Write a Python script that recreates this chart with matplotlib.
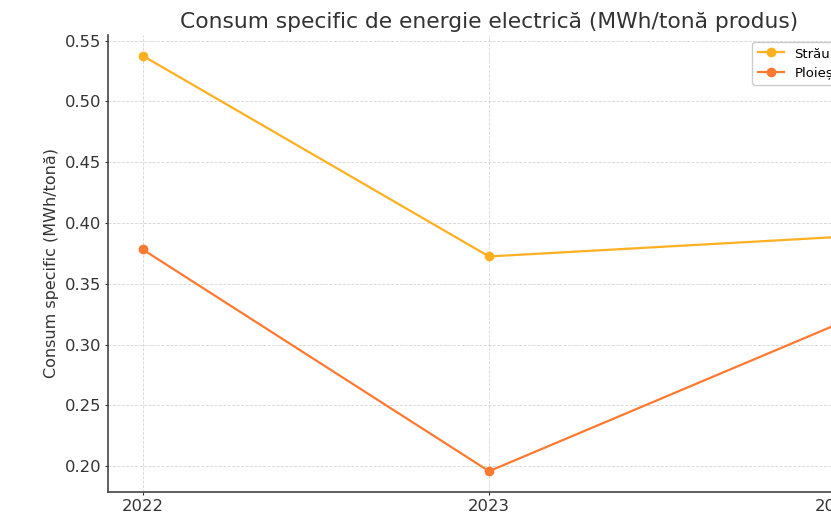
import matplotlib
matplotlib.use("Agg")
import matplotlib.pyplot as plt

plt.rcParams["font.family"] = ["DejaVu Sans"]

years = [2022, 2023, 2024]
straulesti = [0.5376, 0.3725, 0.3884]
ploiesti = [0.3783, 0.1959, 0.3161]
series_labels = ["Străulești", "Ploiești"]
title = "Consum specific de energie electrică (MWh/tonă produs)"
ylabel = "Consum specific (MWh/tonă)"

fig = plt.figure(figsize=(8.31, 5.17), dpi=100)
ax = fig.add_axes([0.13, 0.0484, 0.917, 0.884])

ax.plot(years, straulesti, marker="o", color="#FFB020", linewidth=1.6,
        markersize=6, label=series_labels[0])
ax.plot(years, ploiesti, marker="o", color="#FF7A30", linewidth=1.6,
        markersize=6, label=series_labels[1])

ax.set_xticks(years)
ax.set_xticklabels([str(y) for y in years])
ax.set_title(title, fontsize=15.7, color="#333333", pad=5)
ax.set_ylabel(ylabel, fontsize=11.5, color="#333333", labelpad=4)
ax.tick_params(labelsize=11.8, colors="#333333", length=2, pad=3)
ax.grid(True, linestyle="--", linewidth=0.6, color="#cccccc", alpha=0.8)
for s in ["top", "right"]:
    ax.spines[s].set_visible(False)
for s in ["left", "bottom"]:
    ax.spines[s].set_color("#444444")
    ax.spines[s].set_linewidth(1.2)

ax.legend(loc="upper right", fontsize=9.5, framealpha=1, edgecolor="#cccccc")

fig.savefig("out.png", dpi=100)
